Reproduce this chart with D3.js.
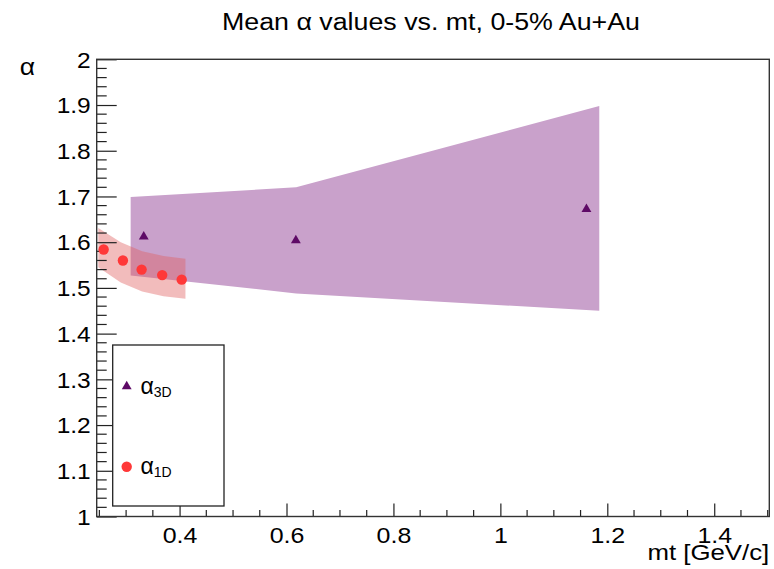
<!DOCTYPE html>
<html>
<head>
<meta charset="utf-8">
<script src="https://cdn.jsdelivr.net/npm/d3@7"></script>
<style>
  body { margin: 0; background: #fff; }
  text { font-family: "Liberation Sans", Arial, Helvetica, sans-serif; fill: #000; }
</style>
</head>
<body>
<div class="chart"></div>
<script>
var W = 774, H = 569;

// alpha_1D points (red circles)
var mt1D    = [0.258, 0.294, 0.329, 0.3675, 0.404];
var alpha1D = [1.584, 1.560, 1.540, 1.528, 1.518];
// alpha_1D band
var band1Dx  = [0.248, 0.29, 0.33, 0.37, 0.411];
var band1Dhi = [1.631, 1.600, 1.580, 1.570, 1.564];
var band1Dlo = [1.545, 1.512, 1.492, 1.482, 1.476];

// alpha_3D points (purple triangles)
var mt3D    = [0.333, 0.6175, 1.161];
var alpha3D = [1.612, 1.604, 1.672];
// alpha_3D band
var band3Dx  = [0.3085, 0.618, 1.185];
var band3Dhi = [1.699, 1.720, 1.898];
var band3Dlo = [1.527, 1.488, 1.450];

var xTicks = [0.4, 0.6, 0.8, 1, 1.2, 1.4];
var yTicks = [1, 1.1, 1.2, 1.3, 1.4, 1.5, 1.6, 1.7, 1.8, 1.9, 2];

var padL = 96.7, padR = 769.3, padT = 59.3, padB = 516.5;
var fontF = '"Liberation Sans", Arial, sans-serif';

var svg = d3.select('.chart').append('svg')
            .attr('width', W)
            .attr('height', H);

// widen text a bit, the reference glyphs are broader than Liberation Sans
function stretch(sel, k) {
  sel.each(function () {
    var len = this.getComputedTextLength();
    d3.select(this).attr('textLength', len * k).attr('lengthAdjust', 'spacingAndGlyphs');
  });
}

var x = d3.scaleLinear().domain([0.245, 1.503]).range([padL, padR]);
var y = d3.scaleLinear().domain([1, 2]).range([padB, padT]);

// bands
var area = d3.area()
             .x(function (d) { return x(d[0]); })
             .y0(function (d) { return y(d[1]); })
             .y1(function (d) { return y(d[2]); });

svg.append('path')
   .datum(band3Dx.map(function (v, i) { return [v, band3Dlo[i], band3Dhi[i]]; }))
   .attr('d', area)
   .attr('fill', '#c9a1cb');

svg.append('path')
   .datum(band1Dx.map(function (v, i) { return [v, band1Dlo[i], band1Dhi[i]]; }))
   .attr('d', area)
   .attr('fill', '#e06060')
   .attr('fill-opacity', 0.42);

// axes
var xAxis = d3.axisBottom(x).tickValues(xTicks).tickSize(13).tickFormat(d3.format('')).tickPadding(0);
var yAxis = d3.axisLeft(y).tickValues(yTicks).tickSize(20).tickFormat(d3.format('')).tickPadding(0);

var xMinor = d3.range(0.25, 1.501, 0.05).filter(function (v) { return Math.abs(v * 5 - Math.round(v * 5)) > 1e-6; });
var yMinor = d3.range(1, 2.001, 0.02).filter(function (v) { return Math.abs(v * 10 - Math.round(v * 10)) > 1e-6; });

svg.append('g').selectAll('line').data(xMinor).enter().append('line')
   .attr('x1', function (d) { return x(d); }).attr('x2', function (d) { return x(d); })
   .attr('y1', padB).attr('y2', padB - 6.5)
   .attr('stroke', '#222').attr('stroke-width', 1.2);
svg.append('g').selectAll('line').data(yMinor).enter().append('line')
   .attr('y1', function (d) { return y(d); }).attr('y2', function (d) { return y(d); })
   .attr('x1', padL).attr('x2', padL + 10)
   .attr('stroke', '#222').attr('stroke-width', 1.2);

var gx = svg.append('g').attr('transform', 'translate(0,' + padB + ')').call(xAxis);
gx.select('.domain').remove();
gx.selectAll('.tick line').attr('y2', -13).attr('stroke', '#222').attr('stroke-width', 1.2);
gx.selectAll('.tick text').attr('y', 26).attr('dy', 0)
  .style('font-size', '21.5px').style('font-family', fontF).attr('fill', '#000')
  .call(stretch, 1.16);

var gy = svg.append('g').attr('transform', 'translate(' + padL + ',0)').call(yAxis);
gy.select('.domain').remove();
gy.selectAll('.tick line').attr('x2', 20).attr('stroke', '#222').attr('stroke-width', 1.2);
gy.selectAll('.tick text').attr('x', -6).attr('dy', '0.36em')
  .style('font-size', '21.5px').style('font-family', fontF).attr('fill', '#000')
  .call(stretch, 1.14);

// frame
svg.append('rect')
   .attr('x', padL).attr('y', padT)
   .attr('width', padR - padL).attr('height', padB - padT)
   .attr('fill', 'none').attr('stroke', '#333').attr('stroke-width', 1.4);

// markers
var tri = d3.symbol().type(d3.symbolTriangle).size(42);
svg.append('g').selectAll('path').data(mt3D).enter().append('path')
   .attr('d', tri)
   .attr('transform', function (d, i) { return 'translate(' + x(d) + ',' + y(alpha3D[i]) + ')'; })
   .attr('fill', '#5e0a66');

svg.append('g').selectAll('circle').data(mt1D).enter().append('circle')
   .attr('cx', function (d) { return x(d); })
   .attr('cy', function (d, i) { return y(alpha1D[i]); })
   .attr('r', 5.2)
   .attr('fill', '#ff3838');

// titles
svg.append('text')
   .attr('x', 431).attr('y', 29.5)
   .attr('text-anchor', 'middle')
   .attr('textLength', 418).attr('lengthAdjust', 'spacingAndGlyphs')
   .style('font-size', '23px')
   .text('Mean α values vs. mt, 0-5% Au+Au');

svg.append('text')
   .attr('x', 27.5).attr('y', 75)
   .attr('text-anchor', 'middle')
   .style('font-size', '23px')
   .text('α')
   .call(stretch, 1.15);

svg.append('text')
   .attr('x', padR).attr('y', 560)
   .attr('text-anchor', 'end')
   .style('font-size', '21.5px')
   .text('mt [GeV/c]')
   .call(stretch, 1.2);

// legend
var leg = svg.append('g');
leg.append('rect')
   .attr('x', 112.7).attr('y', 345)
   .attr('width', 111.3).attr('height', 161)
   .attr('fill', '#fff').attr('stroke', '#222').attr('stroke-width', 1.3);

leg.append('path').attr('d', tri)
   .attr('transform', 'translate(126.7,386.5)')
   .attr('fill', '#5e0a66');
leg.append('circle').attr('cx', 126.7).attr('cy', 466.7).attr('r', 5.2).attr('fill', '#ff3838');

var labels = [['3D', 393.5], ['1D', 473.5]];
labels.forEach(function (l) {
  var t = leg.append('text').attr('x', 140.5).attr('y', l[1]).style('font-size', '23px');
  t.append('tspan').text('α');
  t.append('tspan').attr('dy', 3).style('font-size', '14px').text(l[0]);
});
</script>
</body>
</html>
